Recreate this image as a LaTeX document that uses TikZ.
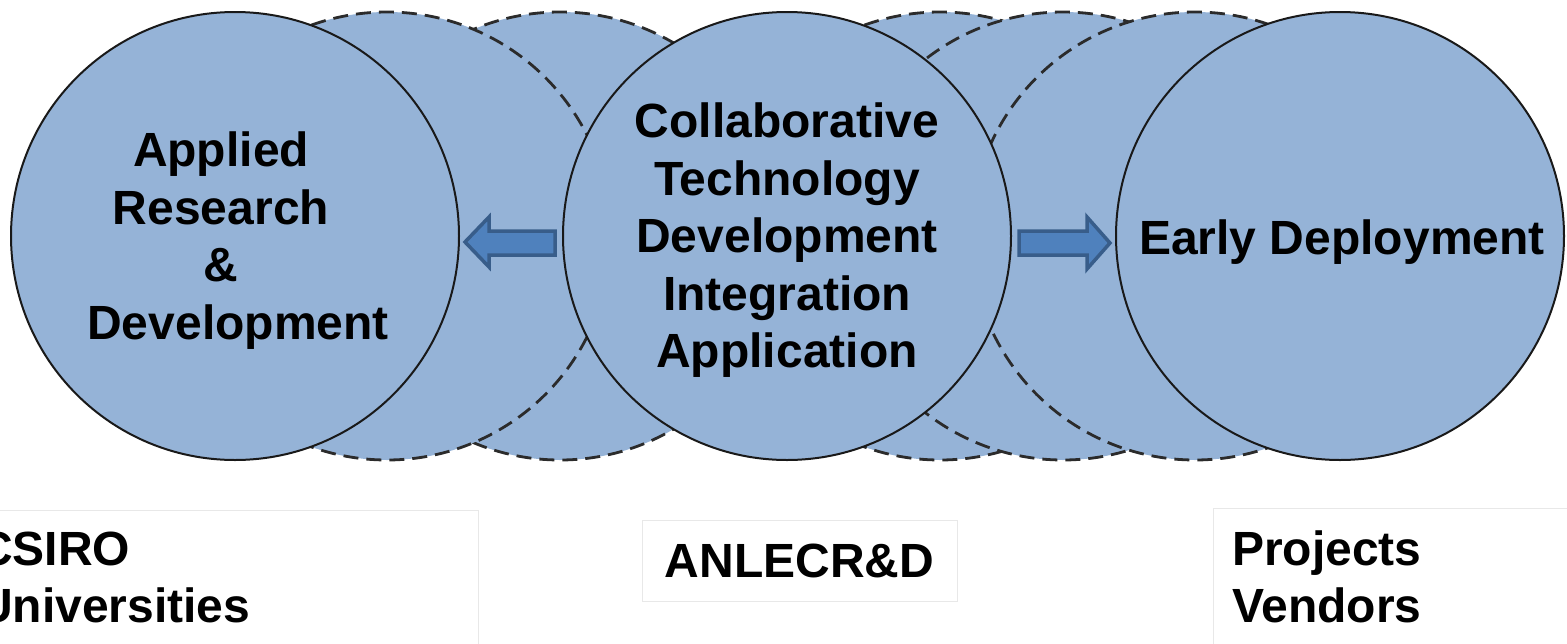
\documentclass[tikz,border=0pt]{standalone}
\usepackage{fontspec}
\setmainfont{Liberation Sans}
\definecolor{cfill}{HTML}{95B3D7}
\definecolor{dashgrey}{HTML}{2B2B2B}
\definecolor{afill}{HTML}{4F81BD}
\definecolor{aborder}{HTML}{385D8A}
\definecolor{boxgrey}{HTML}{E8E8E8}
\begin{document}
\begin{tikzpicture}[x=1pt,y=-1pt,
  bigcirc/.style={circle, minimum size=448pt, inner sep=0pt, fill=cfill},
  solidc/.style={bigcirc, draw=black!90, line width=2pt},
  dashc/.style={bigcirc, draw=dashgrey, line width=2.8pt, dash pattern=on 15pt off 8pt},
  ctext/.style={font=\fontsize{48}{57.5}\selectfont\bfseries, align=center, inner sep=0pt, text=black},
  btext/.style={font=\fontsize{48}{57}\selectfont\bfseries, align=left, inner sep=0pt, text=black},
  blockarrow/.style={fill=afill, draw=aborder, line width=3.5pt, line join=miter},
  labelbox/.style={draw=boxgrey, line width=1pt, fill=white}
]
\useasboundingbox (0,0) rectangle (1567,643);
\clip (0,0) rectangle (1567,643);
\fill[white] (0,0) rectangle (1567,643);
% circles, back to front
\node[dashc] (B) at (560,236) {};
\node[dashc] (A) at (387,236) {};
\node[solidc] (L) at (235,236) {};
\node[dashc] (C) at (940,236) {};
\node[dashc] (D) at (1063,236) {};
\node[dashc] (E) at (1195,236) {};
\node[solidc] (R) at (1340,236) {};
\node[solidc] (M) at (787,236) {};
% circle texts
\node[ctext] (Lt) at (238,240.5) {Applied\rule{34pt}{0pt}\\Research\rule{34pt}{0pt}\\\&\rule{34pt}{0pt}\\Development};
\node[ctext] (Mt) at (787,240.5) {Collaborative\\Technology\\Development\\Integration\\Application};
\node[ctext, anchor=base] (Rt) at (1342,254) {Early Deployment};
% block arrows
\draw[blockarrow] (555,231) -- (489,231) -- (489,217) -- (465,242) -- (489,267) -- (489,255) -- (555,255) -- cycle;
\draw[blockarrow] (1019,231) -- (1087,231) -- (1087,217) -- (1110,243) -- (1087,269) -- (1087,255) -- (1019,255) -- cycle;
% label boxes
\draw[labelbox] (-10,510.5) rectangle (478,660);
\node[btext, anchor=north west] (csiro) at (-22,532) {CSIRO\\Universities};
\node[labelbox, minimum width=315pt, minimum height=81pt, inner sep=0pt, font=\fontsize{48}{57}\selectfont\bfseries] (anlec) at (799.5,560.5) {ANLECR\&D};
\draw[labelbox] (1213,508.5) rectangle (1600,660);
\node[btext, anchor=north west] (proj) at (1232,531) {Projects\\Vendors};
\end{tikzpicture}
\end{document}
